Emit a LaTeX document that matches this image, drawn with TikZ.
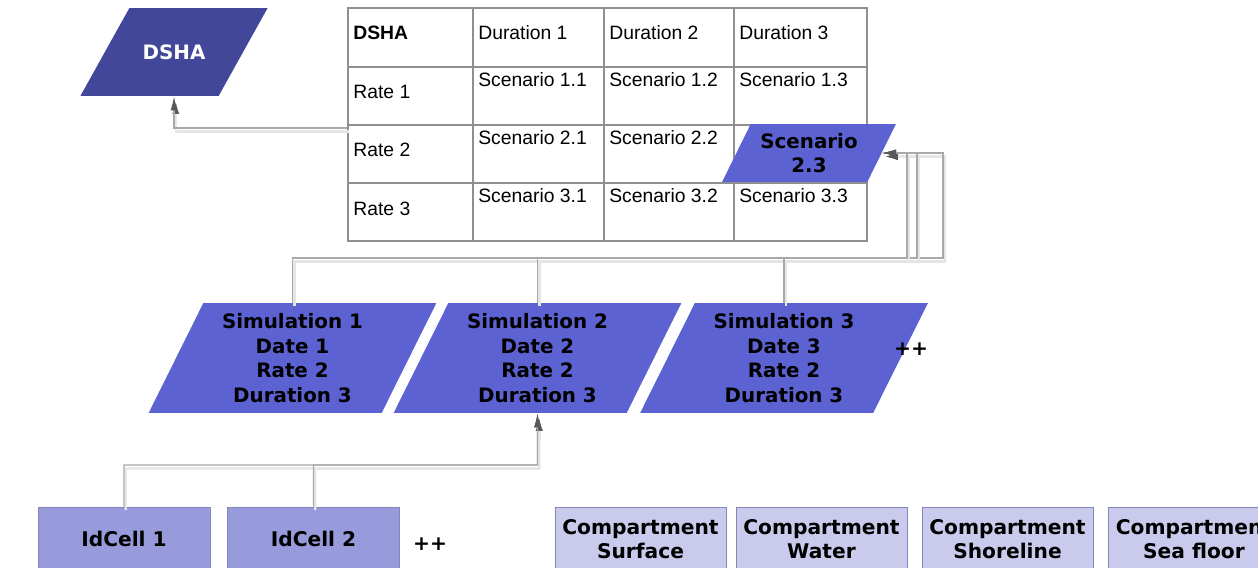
\documentclass[tikz,border=0pt]{standalone}
\usepackage{fontspec}
\setmainfont{Liberation Sans}
\newfontfamily\vfont{DejaVu Sans}
\usepackage{tikz}
\usetikzlibrary{shapes.geometric}
\usetikzlibrary{arrows.meta}

\definecolor{dshablue}{HTML}{42479A}
\definecolor{simblue}{HTML}{5C62D2}
\definecolor{cellblue}{HTML}{979BDC}
\definecolor{compblue}{HTML}{C9CAEC}
\definecolor{gridgray}{HTML}{8F8F8F}
\definecolor{linkgray}{HTML}{A8A8A8}
\definecolor{edgeblue}{HTML}{8286B8}

\begin{document}
\begin{tikzpicture}[x=0.02cm, y=-0.02cm,
	para/.style={trapezium, trapezium stretches=true, inner sep=0pt, align=center,
		font=\vfont\bfseries\fontsize{11.3}{13.9}\selectfont},
	simbox/.style={para, fill=simblue, trapezium left angle=64, trapezium right angle=116,
		minimum width=5.76cm, minimum height=2.2cm},
	cellbox/.style={draw=edgeblue, fill=cellblue, inner sep=0pt, minimum width=3.44cm, minimum height=1.28cm,
		font=\vfont\bfseries\fontsize{11.5}{14}\selectfont},
	compbox/.style={cellbox, fill=compblue, minimum width=3.42cm, align=center},
	cell/.style={anchor=west, inner sep=0pt, font=\fontsize{11}{13}\selectfont},
	grid/.style={draw=gridgray, line width=1.1pt},
	link/.style={draw=linkgray, line width=0.7pt, -{Latex[length=8pt,width=4pt,color=black!65]},
		preaction={draw=black!10, line width=1.4pt, transform canvas={xshift=1pt,yshift=-2pt}}},
	more/.style={inner sep=0pt, font=\vfont\bfseries\fontsize{11.5}{14}\selectfont}]

	\useasboundingbox (0,0) rectangle (1258,568);
	\clip (0,0) rectangle (1258,568);

	% table of scenarios
	\node[grid, minimum width=10.38cm, minimum height=4.66cm, inner sep=0pt] (tbl) at (607.5,124.5) {};
	\draw[grid] (473,8) -- (473,241);
	\draw[grid] (604,8) -- (604,241);
	\draw[grid] (734,8) -- (734,241);
	\draw[grid] (348,67) -- (867,67);
	\draw[grid] (348,125) -- (867,125);
	\draw[grid] (348,183) -- (867,183);

	\node[cell, font=\bfseries\fontsize{11}{13}\selectfont] (head) at (353,33) {DSHA};
	\node[cell] (dur1) at (478,33) {Duration 1};
	\node[cell] (dur2) at (609,33) {Duration 2};
	\node[cell] (dur3) at (739,33) {Duration 3};
	\node[cell] (rate1) at (353,92) {Rate 1};
	\node[cell] (rate2) at (353,150) {Rate 2};
	\node[cell] (rate3) at (353,209) {Rate 3};
	\node[cell] (sc11) at (478,80) {Scenario 1.1};
	\node[cell] (sc12) at (609,80) {Scenario 1.2};
	\node[cell] (sc13) at (739,80) {Scenario 1.3};
	\node[cell] (sc21) at (478,138) {Scenario 2.1};
	\node[cell] (sc22) at (609,138) {Scenario 2.2};
	\node[cell] (sc31) at (478,196) {Scenario 3.1};
	\node[cell] (sc32) at (609,196) {Scenario 3.2};
	\node[cell] (sc33) at (739,196) {Scenario 3.3};

	% parallelograms
	\node[para, fill=dshablue, text=white, trapezium left angle=68, trapezium right angle=112,
		inner ysep=20pt, minimum width=3.76cm, minimum height=1.76cm] (dsha) at (174,52) {DSHA};
	\node[para, fill=simblue, trapezium left angle=59, trapezium right angle=121,
		minimum width=3.48cm, minimum height=1.16cm] (sc23) at (809,153) {Scenario\\2.3};

	\node[simbox] (sim1) at (292.5,358) {Simulation 1\\Date 1\\Rate 2\\Duration 3};
	\node[simbox] (sim2) at (537.5,358) {Simulation 2\\Date 2\\Rate 2\\Duration 3};
	\node[simbox] (sim3) at (784,358) {Simulation 3\\Date 3\\Rate 2\\Duration 3};
	\node[more] (moresim) at (911,349) {++};

	% cells and compartments
	\node[cellbox] (id1) at (124,539) {IdCell 1};
	\node[cellbox] (id2) at (313.5,539) {IdCell 2};
	\node[more] (morecell) at (430,544) {++};
	\node[compbox] (surf) at (640.5,539) {Compartment\\Surface};
	\node[compbox] (water) at (821.5,539) {Compartment\\Water};
	\node[compbox] (shore) at (1007.5,539) {Compartment\\Shoreline};
	\node[compbox] (floor) at (1194,539) {Compartment\\Sea floor};

	% links
	\coordinate (bus1) at (943,258);
	\coordinate (bus2) at (917,258);
	\coordinate (bus3) at (907,258);
	\coordinate (low) at (537.5,465);

	\draw[link] ([yshift=-2pt]tbl.west) -| (dsha.south);
	\draw[link] (sim1.north) |- (bus1) |- (sc23.east);
	\draw[link] (sim2.north) |- (bus2) |- (sc23.east);
	\draw[link] (sim3.north) |- (bus3) |- (sc23.east);
	\draw[link] (id1.north) |- (low) -- (sim2.south);
	\draw[link] (id2.north) |- (low) -- (sim2.south);
\end{tikzpicture}
\end{document}
